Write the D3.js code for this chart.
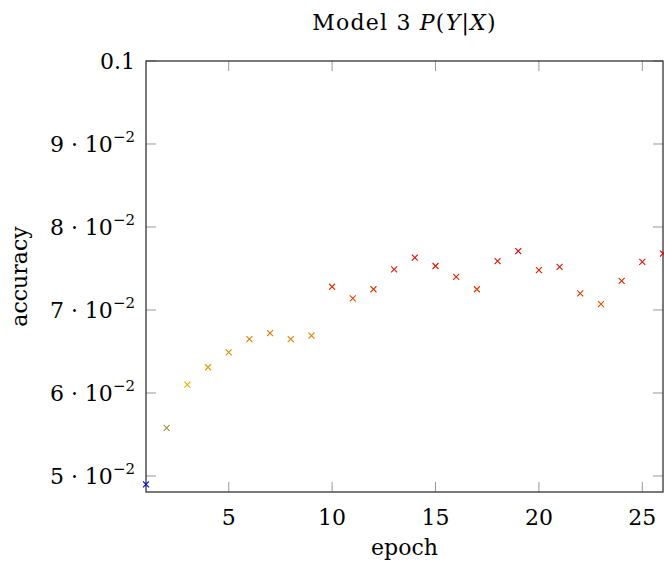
<!DOCTYPE html>
<html><head><meta charset="utf-8">
<script src="https://cdn.jsdelivr.net/npm/d3@7"></script>
<style>body{margin:0;background:#fff}svg{display:block}text{font-family:"DejaVu Serif",serif;fill:#000}</style>
</head><body><svg id="c" width="664" height="565"></svg>
<script>
const epochs = [1,2,3,4,5,6,7,8,9,10,11,12,13,14,15,16,17,18,19,20,21,22,23,24,25,26];
const accuracy = [0.0490,0.0558,0.0610,0.0631,0.0649,0.0665,0.0672,0.0665,0.0669,0.0728,0.0714,0.0725,0.0749,0.0763,0.0753,0.0740,0.0725,0.0759,0.0771,0.0748,0.0752,0.0720,0.0707,0.0735,0.0758,0.0768];
const xTicks = [5,10,15,20,25];
const yTicks = [0.05,0.06,0.07,0.08,0.09,0.1];
const yTickMant = ["5","6","7","8","9"];
const title = "Model 3";
const xLabel = "epoch", yLabel = "accuracy";

const svg = d3.select("#c");
const L=146, R=663, T=61, B=492;
const x = d3.scaleLinear().domain([1,26]).range([L,R]);
const y = d3.scaleLinear().domain([0.04807,0.1]).range([B,T]);
const cmin = d3.min(accuracy), cmax = d3.max(accuracy);
const col = d3.scaleLinear().domain([0,1/3,2/3,1].map(t=>cmin+t*(cmax-cmin)))
  .range(["rgb(0,0,230)","rgb(220,200,0)","rgb(225,115,0)","rgb(225,0,0)"]).clamp(true);

const FS = 22;
const tl = 10;
const g = svg.append("g");
xTicks.forEach(t=>{
  g.append("line").attr("x1",x(t)).attr("x2",x(t)).attr("y1",B).attr("y2",B-tl).attr("stroke","#999").attr("stroke-width",1);
  g.append("line").attr("x1",x(t)).attr("x2",x(t)).attr("y1",T).attr("y2",T+tl).attr("stroke","#999").attr("stroke-width",1);
  g.append("text").attr("x",x(t)).attr("y",B+33).attr("text-anchor","middle").attr("font-size",FS).text(t);
});
yTicks.forEach((t,i)=>{
  g.append("line").attr("x1",L).attr("x2",L+tl).attr("y1",y(t)).attr("y2",y(t)).attr("stroke","#999").attr("stroke-width",1);
  g.append("line").attr("x1",R).attr("x2",R-tl).attr("y1",y(t)).attr("y2",y(t)).attr("stroke","#999").attr("stroke-width",1);
  const tx = g.append("text").attr("x",135).attr("y",y(t)+8).attr("text-anchor","end").attr("font-size",FS);
  if (i===yTicks.length-1) { tx.text("0.1"); }
  else {
    tx.append("tspan").text(yTickMant[i]+" · 10");
    tx.append("tspan").attr("font-size",15).attr("dy",-10).text("−2");
  }
});
svg.append("rect").attr("x",L).attr("y",T).attr("width",R-L).attr("height",B-T).attr("fill","none").attr("stroke","#333").attr("stroke-width",1.3);

const s=3;
const pts = svg.append("g");
epochs.forEach((e,i)=>{
  const cx=x(e), cy=y(accuracy[i]), c=col(accuracy[i]);
  pts.append("path").attr("d",`M${cx-s},${cy-s}L${cx+s},${cy+s}M${cx-s},${cy+s}L${cx+s},${cy-s}`)
    .attr("stroke",c).attr("stroke-width",1.1).attr("fill","none");
});

const tt = svg.append("text").attr("x",(L+R)/2).attr("y",30).attr("text-anchor","middle").attr("font-size",FS).attr("letter-spacing",1.2);
tt.append("tspan").text(title+" ");
tt.append("tspan").attr("font-style","italic").text("P");
tt.append("tspan").text("(");
tt.append("tspan").attr("font-style","italic").text("Y");
tt.append("tspan").text("|");
tt.append("tspan").attr("font-style","italic").text("X");
tt.append("tspan").text(")");
svg.append("text").attr("x",(L+R)/2).attr("y",555).attr("text-anchor","middle").attr("font-size",FS).text(xLabel);
svg.append("text").attr("transform",`translate(27,${(T+B)/2}) rotate(-90)`).attr("text-anchor","middle").attr("font-size",FS).text(yLabel);
</script></body></html>
